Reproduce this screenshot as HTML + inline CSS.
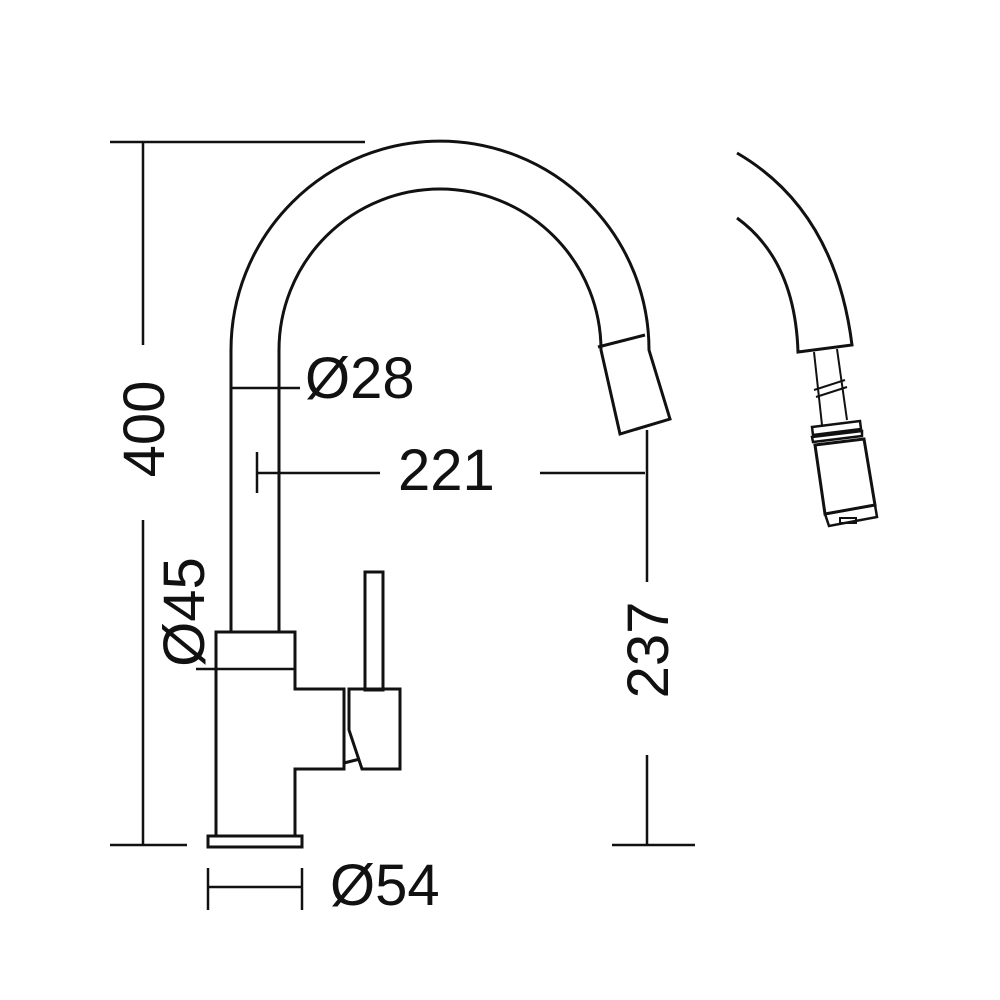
<!DOCTYPE html>
<html><head><style>html,body{margin:0;padding:0;background:#fff}svg{display:block}text{font-family:"Liberation Sans",sans-serif;font-size:58px;fill:#111}</style></head><body>
<svg width="1000" height="1000" viewBox="0 0 1000 1000" xmlns="http://www.w3.org/2000/svg">
<g fill="none" stroke="#111" stroke-width="3" stroke-linejoin="miter">
<!-- spout -->
<path d="M231 632 L231 350 A209 209 0 0 1 649 350 L670 419 L620 434 L601 350 A161 161 0 0 0 279 350 L279 632"/>
<line x1="598" y1="347" x2="645" y2="335"/>
<!-- body -->
<path d="M216 632 L295 632 L295 689 L344 689 L344 769 L295 769 L295 836 L216 836 Z"/>
<rect x="208" y="836" width="94" height="11"/>
<rect x="365" y="572" width="18" height="118"/>
<path d="M349 689 L400 689 L400 769 L362 769 L349 730 Z"/>
<line x1="344" y1="690" x2="344" y2="769"/>
<line x1="344" y1="763" x2="360" y2="759"/>
<!-- right detail -->
<path d="M737 153 Q835 210 852 345 L798 352 Q795 260 737 218"/>
<line x1="814" y1="352" x2="822" y2="425" stroke-width="2"/>
<line x1="837" y1="349" x2="847" y2="420" stroke-width="2"/>
<line x1="814" y1="390" x2="845" y2="380" stroke-width="2"/>
<line x1="816" y1="397" x2="847" y2="387" stroke-width="2"/>
<path d="M812 427 L860 421 L861 429 L813 435 Z" stroke-width="2.5"/>
<path d="M812 437 L862 431 L862 436 L813 442 Z" stroke-width="2.5"/>
<path d="M815 445 L864 439 L875 505 L825 514 Z"/>
<path d="M825 514 L875 505 L877 517 L829 526 Z" stroke-width="2.5"/>
<rect x="840" y="518" width="16" height="5" stroke-width="2"/>
</g>
<g stroke="#111" stroke-width="2.5" fill="none">
<!-- 400 -->
<line x1="110" y1="142" x2="365" y2="142"/>
<line x1="110" y1="845" x2="187" y2="845"/>
<line x1="143" y1="142" x2="143" y2="345"/>
<line x1="143" y1="520" x2="143" y2="845"/>
<!-- Ø28 -->
<line x1="231" y1="388" x2="300" y2="388"/>
<!-- 221 -->
<line x1="257" y1="452" x2="257" y2="493"/>
<line x1="257" y1="473" x2="380" y2="473"/>
<line x1="540" y1="473" x2="645" y2="473"/>
<!-- 237 -->
<line x1="647" y1="430" x2="647" y2="582"/>
<line x1="647" y1="755" x2="647" y2="845"/>
<line x1="612" y1="845" x2="695" y2="845"/>
<!-- Ø45 -->
<line x1="196" y1="669" x2="295" y2="669"/>
<!-- Ø54 -->
<line x1="208" y1="868" x2="208" y2="910"/>
<line x1="302" y1="868" x2="302" y2="910"/>
<line x1="208" y1="887" x2="302" y2="887"/>
</g>
<text x="305" y="398">Ø28</text>
<text x="398" y="490">221</text>
<text x="330" y="905">Ø54</text>
<text transform="translate(164,429) rotate(-90)" text-anchor="middle">400</text>
<text transform="translate(204,612) rotate(-90)" text-anchor="middle">Ø45</text>
<text transform="translate(668,650) rotate(-90)" text-anchor="middle">237</text>
</svg>
</body></html>
